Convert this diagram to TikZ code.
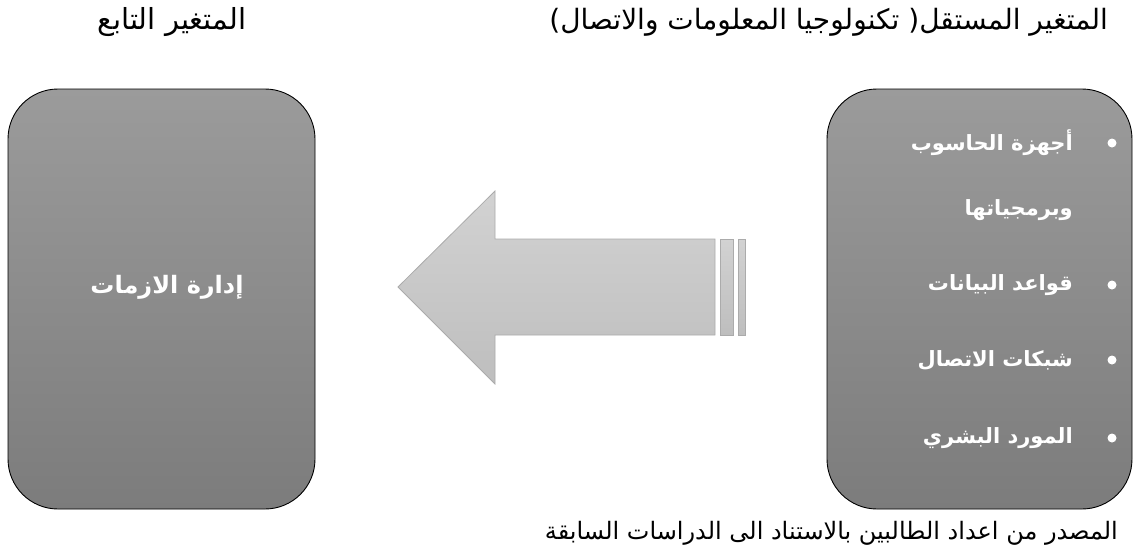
\documentclass[tikz,border=0pt]{standalone}
\usepackage{fontspec}
\TeXXeTstate=1
\newfontfamily\arabicfont[Script=Arabic]{DejaVu Sans}
\definecolor{boxtop}{HTML}{9B9B9B}
\definecolor{boxbot}{HTML}{7C7C7C}
\definecolor{arrtop}{HTML}{D2D2D2}
\definecolor{arrbot}{HTML}{BEBEBE}
\definecolor{arredge}{HTML}{ABABAB}
\tikzset{
  box/.style={draw=black, line width=0.9pt, rounded corners=50pt, top color=boxtop, bottom color=boxbot, minimum width=#1, minimum height=420pt, inner sep=0pt},
  heading/.style={font=\arabicfont\fontsize{28}{32}\selectfont, text=black, inner sep=0pt},
  item/.style={font=\arabicfont\bfseries\fontsize{21}{24}\selectfont, text=white, inner sep=0pt, anchor=east},
  dot/.style={circle, fill=white, minimum size=9pt, inner sep=0pt},
  arrowpart/.style={draw=arredge, line width=0.8pt, top color=arrtop, bottom color=arrbot}
}
\begin{document}
\begin{tikzpicture}[x=1pt,y=-1pt]
\useasboundingbox (0,0) rectangle (1136,558);
% boxes
\node[box=307pt] (lb) at (161.5,299) {};
\node[box=305pt] (rb) at (979.5,299) {};
% left box text
\node[font=\arabicfont\bfseries\fontsize{24}{28}\selectfont, text=white, inner sep=0pt] (lt) at (167,287) {\beginR إدارة الازمات\endR};
% right box items
\node[dot] (b1) at (1112,143) {};
\node[item] (t1) at (1073,143) {\beginR أجهزة الحاسوب\endR};
\node[item] (t2) at (1073,210) {\beginR وبرمجياتها\endR};
\node[dot] (b3) at (1112,285) {};
\node[item] (t3) at (1073,285) {\beginR قواعد البيانات\endR};
\node[dot] (b4) at (1112,360) {};
\node[item] (t4) at (1073,360) {\beginR شبكات الاتصال\endR};
\node[dot] (b5) at (1112,438) {};
\node[item] (t5) at (1073,438) {\beginR المورد البشري\endR};
% block arrow
\path[arrowpart] (398,287) -- (495,191) -- (495,239) -- (715,239) -- (715,335) -- (495,335) -- (495,384) -- cycle;
\path[arrowpart] (720,239) rectangle (733,335);
\path[arrowpart] (738,239) rectangle (745,335);
% headings
\node[heading, anchor=east] (h1) at (1108,22) {\beginR المتغير المستقل( تكنولوجيا المعلومات والاتصال)\endR};
\node[heading, font=\arabicfont\fontsize{29}{32}\selectfont] (h2) at (172,22) {\beginR المتغير التابع\endR};
\node[heading, anchor=east, font=\arabicfont\fontsize{24}{28}\selectfont] (src) at (1118,533) {\beginR المصدر من اعداد الطالبين بالاستناد الى الدراسات السابقة\endR};
\end{tikzpicture}
\end{document}
